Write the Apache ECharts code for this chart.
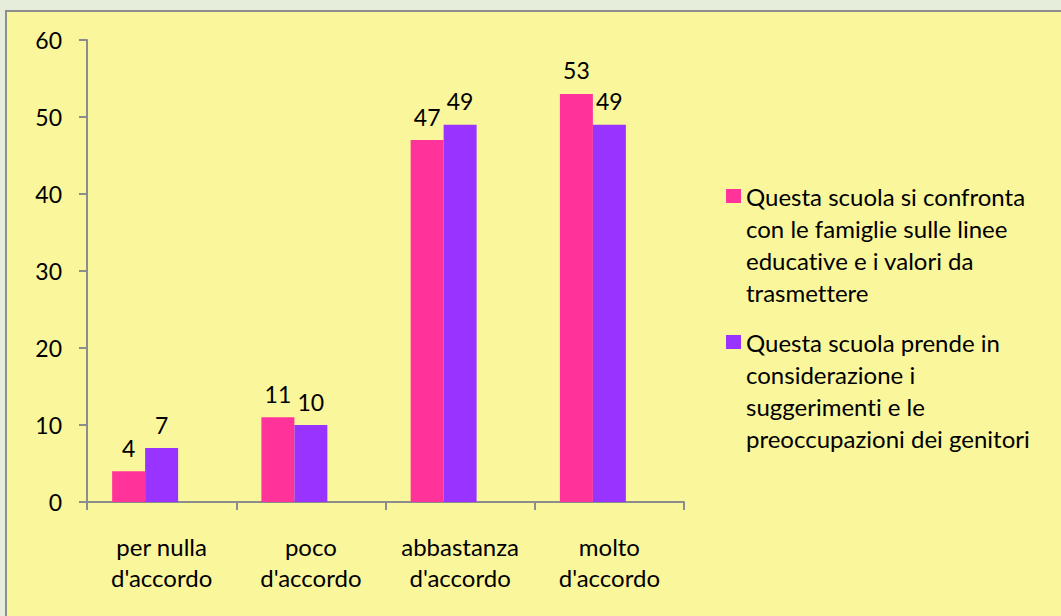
<!DOCTYPE html>
<html>
<head>
<meta charset="utf-8">
<script src="https://cdn.jsdelivr.net/npm/echarts@6/dist/echarts.min.js"></script>
<style>
  html, body { margin: 0; padding: 0; background: #E7EDDB; width: 1061px; height: 616px; overflow: hidden; }
  #frame { position: absolute; left: 5px; top: 10px; border-left: 2px solid #8E8E8E; border-top: 2px solid #8E8E8E; background: #FAF69B; }
  #chart { width: 1054px; height: 604px; }
  #chart text { font-variant-ligatures: none !important; }
</style>
</head>
<body>
<div id="frame"><div id="chart"></div></div>
<script>
const categories = ["per nulla\nd'accordo", "poco\nd'accordo", "abbastanza\nd'accordo", "molto\nd'accordo"];
const seriesNames = [
  "Questa scuola si confronta\ncon le famiglie sulle linee\neducative e i valori da\ntrasmettere",
  "Questa scuola prende in\nconsiderazione i\nsuggerimenti e le\npreoccupazioni dei genitori"
];
const valuesConfronta = [4, 11, 47, 53];
const valuesPrende = [7, 10, 49, 49];
const yTicks = { min: 0, max: 60, interval: 10 };

const FONT = 'Lato';
const axisGray = '#8C8C8C';

const chart = echarts.init(document.getElementById('chart'), null, { renderer: 'svg' });
function legendFor(name, top) {
  return {
    data: [name],
    orient: 'vertical',
    left: 726 - 7,
    top: top,
    padding: 0,
    itemWidth: 15,
    itemHeight: 14,
    icon: 'rect',
    selectedMode: false,
    formatter: n => '\n\n\n' + n,
    textStyle: { fontFamily: FONT, fontSize: 24, lineHeight: 32, color: '#000' }
  };
}
const labelStyle = { show: true, position: 'top', distance: 12, fontFamily: FONT, fontSize: 23, color: '#000' };
chart.setOption({
  backgroundColor: '#FAF69B',
  animation: false,
  grid: { left: 80, top: 28, right: 377, bottom: 114 },
  legend: [legendFor(seriesNames[0], 72), legendFor(seriesNames[1], 218)],
  xAxis: {
    type: 'category',
    data: categories,
    axisLine: { lineStyle: { color: axisGray, width: 2 } },
    axisTick: { show: true, length: 8, lineStyle: { color: axisGray, width: 2 } },
    axisLabel: { fontFamily: FONT, fontSize: 24, lineHeight: 31, color: '#000', margin: 29, interval: 0 }
  },
  yAxis: {
    type: 'value',
    min: yTicks.min, max: yTicks.max, interval: yTicks.interval,
    splitLine: { show: false },
    axisLine: { show: true, lineStyle: { color: axisGray, width: 2 } },
    axisTick: { show: true, length: 8, lineStyle: { color: axisGray, width: 2 } },
    axisLabel: { fontFamily: FONT, fontSize: 23, color: '#000', margin: 25 }
  },
  series: [
    {
      name: seriesNames[0], type: 'bar', data: valuesConfronta,
      itemStyle: { color: '#FF3399' },
      barGap: '0%', barCategoryGap: '33.7%',
      label: labelStyle
    },
    {
      name: seriesNames[1], type: 'bar', data: valuesPrende,
      itemStyle: { color: '#9933FF' },
      barGap: '0%', barCategoryGap: '33.7%',
      label: labelStyle
    },
    {
      // empty third slot (hidden series in the original), keeps bars left of centre
      name: 'hidden', type: 'bar', data: [],
      barGap: '0%', barCategoryGap: '33.7%'
    }
  ]
});
</script>
</body>
</html>
